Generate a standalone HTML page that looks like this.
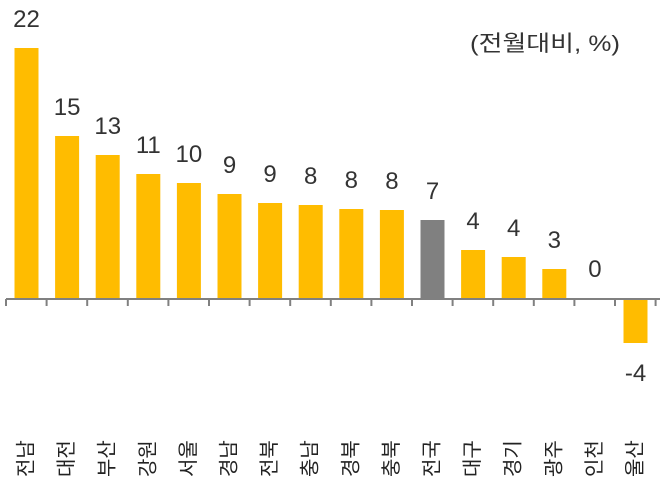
<!DOCTYPE html>
<html><head><meta charset="utf-8"><style>
html,body{margin:0;padding:0;background:#fff;}
svg{display:block;font-family:"Liberation Sans","Noto Sans CJK KR",sans-serif;}
</style></head><body>
<svg width="664" height="488" viewBox="0 0 664 488" xmlns="http://www.w3.org/2000/svg">
<text x="470" y="51" font-size="22" fill="#333" textLength="150" lengthAdjust="spacingAndGlyphs">(전월대비, %)</text>
<g id="bars"></g>
<line x1="6" y1="299" x2="660" y2="299" stroke="#808080" stroke-width="2"/>
<g id="ticks"></g>
<g id="labels"></g>
<script>
var ns="http://www.w3.org/2000/svg";
var cats=["전남","대전","부산","강원","서울","경남","전북","충남","경북","충북","전국","대구","경기","광주","인천","울산"];
var vals=["22","15","13","11","10","9","9","8","8","8","7","4","4","3","0","-4"];
var tops=[48,136,155,174,183,194,203,205,209,210,220,250,257,269,298,343];
var b=document.getElementById("bars"),t=document.getElementById("ticks"),l=document.getElementById("labels");
function el(n,a,p,tx){var e=document.createElementNS(ns,n);for(var k in a)e.setAttribute(k,a[k]);if(tx!==undefined)e.textContent=tx;p.appendChild(e);return e;}
for(var i=0;i<16;i++){
 var cx=26.5+40.6*i;
 var y0=Math.min(tops[i],299),h=Math.abs(tops[i]-299);
 if(h>1)el("rect",{x:cx-12,y:y0,width:24,height:h,fill:i==10?"#808080":"#FFBC00"},b);
 var ty=i==15?381:tops[i]-21;
 el("text",{x:cx,y:ty,"font-size":24,"text-anchor":"middle",fill:"#333"},l,vals[i]);
 el("text",{x:0,y:0,"font-size":20,"text-anchor":"start","dominant-baseline":"central",fill:"#222",transform:"translate("+cx+",477) rotate(-90)"},l,cats[i]);
}
for(var i=0;i<=16;i++){var x=6+40.6*i;el("line",{x1:x,y1:299,x2:x,y2:306,stroke:"#808080","stroke-width":2},t);}
</script>
</svg>
</body></html>
